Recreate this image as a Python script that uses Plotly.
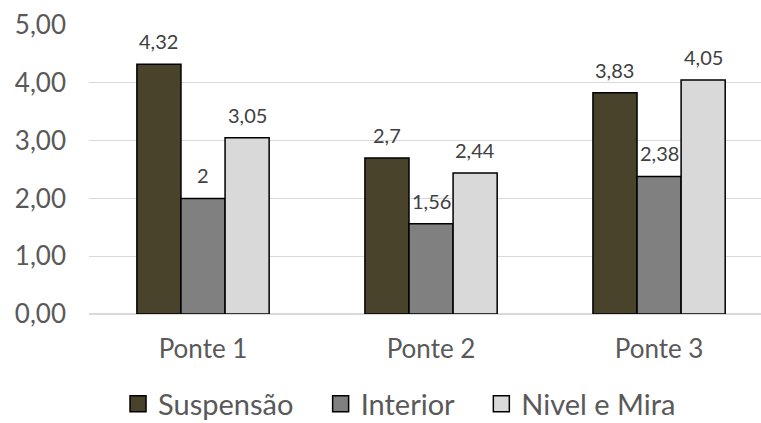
import plotly.graph_objects as go

categories = ["Ponte 1", "Ponte 2", "Ponte 3"]
suspensao = [4.32, 2.7, 3.83]
interior = [2, 1.56, 2.38]
nivel_mira = [3.05, 2.44, 4.05]
y_ticks = [0, 1, 2, 3, 4, 5]
y_tick_text = ["0,00", "1,00", "2,00", "3,00", "4,00", "5,00"]
series_names = ["Suspensão", "Interior", "Nivel e Mira"]
series_colors = ["#4a432c", "#808080", "#d9d9d9"]
series_values = [suspensao, interior, nivel_mira]

FONT = "Lato, Open Sans, sans-serif"
BARGAP = 0.42
LEGEND_PAD = "\u00a0\u00a0\u00a0"  # extra room between legend entries


def fmt(v):
    s = f"{v:.2f}".rstrip("0").rstrip(".")
    return s.replace(".", ",")


fig = go.Figure()
n = len(series_names)
bar_w = (1 - BARGAP) / n
annotations = []
for k, (name, vals, color) in enumerate(zip(series_names, series_values, series_colors)):
    fig.add_trace(go.Bar(
        x=list(range(len(categories))), y=vals, name=name,
        marker=dict(color=color, line=dict(color="#000000", width=1.5)),
        showlegend=False,
    ))
    # legend swatch drawn as a square marker so it can be larger than the bar default
    legend_label = name + (LEGEND_PAD if k < n - 1 else "")
    fig.add_trace(go.Scatter(
        x=[None], y=[None], mode="markers", name=legend_label,
        marker=dict(symbol="square", size=16, color=color,
                    line=dict(color="#000000", width=1.5)),
    ))
    offset = (k - (n - 1) / 2) * bar_w
    for i, v in enumerate(vals):
        annotations.append(dict(
            x=i + offset, y=v, xref="x", yref="y", text=fmt(v),
            showarrow=False, yanchor="bottom", yshift=9,
            font=dict(family=FONT, size=20, color="#404040"),
        ))

fig.update_layout(
    width=761, height=423,
    margin=dict(l=89, r=0, t=25, b=109),
    paper_bgcolor="white", plot_bgcolor="white",
    barmode="group", bargap=BARGAP, bargroupgap=0,
    font=dict(family=FONT, color="#595959"),
    showlegend=True,
    legend=dict(orientation="h", xref="container", yref="container",
                x=0.525, xanchor="center", y=0.045, yanchor="middle",
                font=dict(family=FONT, size=29, color="#595959"),
                traceorder="normal", itemsizing="trace"),
    annotations=annotations,
)
fig.update_xaxes(range=[-0.5, 2.447], tickvals=list(range(len(categories))),
                 ticktext=categories,
                 showgrid=False, showline=False, zeroline=False, ticks="",
                 ticklabelstandoff=17,
                 tickfont=dict(family=FONT, size=26, color="#595959"))
fig.update_yaxes(range=[0, 5], tickvals=y_ticks, ticktext=y_tick_text,
                 showgrid=True, gridcolor="#d9d9d9", gridwidth=1.2,
                 zeroline=True, zerolinecolor="#d9d9d9", zerolinewidth=1.5,
                 showline=False, ticks="", ticklabelstandoff=22,
                 tickfont=dict(family=FONT, size=26, color="#595959"))

fig.write_html("out.html")
